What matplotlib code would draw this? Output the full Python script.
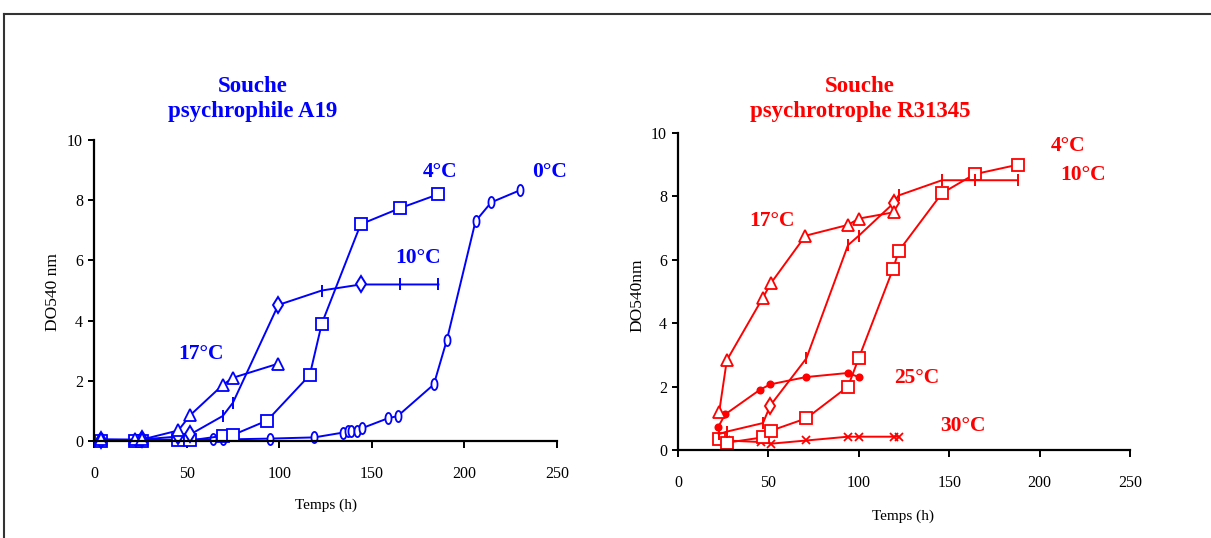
import numpy as np
import matplotlib
matplotlib.use("Agg")
import matplotlib.pyplot as plt
from matplotlib.lines import Line2D

plt.rcParams['font.family'] = ['Liberation Serif', 'DejaVu Serif']

# ---- souche psychrophile A19 (gauche) ----
x17L = [4, 22, 26, 45.5, 52, 69.5, 75, 99.5]
y17L = [0.05, 0.05, 0.05, 0.35, 0.86, 1.86, 2.1, 2.57]
x10L = [4, 22, 26, 45.5, 52, 69.5, 75, 99.5, 123, 144, 165, 186]
y10L = [0.03, 0.03, 0.05, 0.15, 0.22, 0.83, 1.27, 4.52, 5.0, 5.2, 5.2, 5.2]
diam10L = [0, 2, 3, 4, 7, 9]
tick10L = [1, 5, 6, 8, 10, 11]
x4L = [4, 22, 26, 45.5, 52, 69.5, 75, 93.5, 116.5, 123, 144, 165, 186]
y4L = [0.0, 0.0, 0.0, 0.02, 0.02, 0.17, 0.2, 0.68, 2.19, 3.9, 7.2, 7.73, 8.2]
x0L = [4, 22, 26, 45.5, 52, 64.5, 69.5, 95, 119, 134.5, 137, 139, 142, 144.5,
       158.5, 164, 183.5, 190.5, 206, 214.5, 230]
y0L = [0.05, 0.03, 0.03, 0.05, 0.05, 0.05, 0.05, 0.08, 0.12, 0.28, 0.33, 0.33,
       0.33, 0.42, 0.75, 0.83, 1.88, 3.35, 7.3, 7.93, 8.33]

# ---- souche psychrotrophe R31345 (droite) ----
x17R = [22.8, 27, 47, 51.5, 70.5, 94, 100, 119.5]
y17R = [1.21, 2.83, 4.81, 5.27, 6.76, 7.1, 7.3, 7.5]
x10R = [22.5, 27, 47, 51, 71, 94, 100, 119.5, 122, 146, 164, 188]
y10R = [0.5, 0.58, 0.85, 1.4, 2.89, 6.46, 6.76, 7.8, 8.03, 8.51, 8.51, 8.51]
diam10R = [3, 7]
tick10R = [0, 1, 2, 4, 5, 6, 8, 9, 10, 11]
x4R = [22.8, 27, 47, 51.5, 71, 94, 100, 119, 122, 146, 164, 188]
y4R = [0.34, 0.23, 0.4, 0.61, 1.0, 2.0, 2.9, 5.72, 6.27, 8.1, 8.7, 9.0]
x25R = [22.3, 26, 45.3, 51, 70.7, 94, 100]
y25R = [0.73, 1.12, 1.9, 2.07, 2.3, 2.43, 2.3]
x30R = [22.5, 26.5, 46, 51.5, 71, 94, 100, 119.5, 122]
y30R = [0.35, 0.3, 0.25, 0.2, 0.3, 0.42, 0.42, 0.42, 0.42]

xticks = [0, 50, 100, 150, 200, 250]
yticks = [0, 2, 4, 6, 8, 10]

BLUE = '#0000ff'
RED = '#ff0000'

# marqueur ellipse "0"
t = np.linspace(0, 2 * np.pi, 40)
ellipse = list(zip(0.55 * np.cos(t), np.sin(t)))

fig = plt.figure(figsize=(12.11, 5.38), dpi=100)
W, H = 1211, 538

axL = fig.add_axes([94 / W, 1 - 441 / H, 463 / W, 301 / H])
axR = fig.add_axes([678 / W, 1 - 450 / H, 452 / W, 317 / H])

lw = 1.4


def style(ax):
    ax.set_xlim(0, 250)
    ax.set_ylim(0, 10)
    ax.set_xticks(xticks)
    ax.set_yticks(yticks)
    for s in ['top', 'right']:
        ax.spines[s].set_visible(False)
    for s in ['left', 'bottom']:
        ax.spines[s].set_linewidth(1.6)
    ax.tick_params(axis='x', direction='out', length=5, width=1.4, pad=13, labelsize=11.5)
    ax.tick_params(axis='y', direction='out', length=4, width=1.4, pad=4, labelsize=11.5)
    ax.patch.set_alpha(0)


def curve(ax, x, y, c, marker=None, ms=7, mfc='white', mew=1.3):
    ax.plot(x, y, color=c, lw=lw, marker=marker, ms=ms, mfc=mfc, mec=c,
            mew=mew, clip_on=False)


def sub(ax, x, y, idx, c, marker, ms, mfc='white'):
    ax.plot([x[i] for i in idx], [y[i] for i in idx], ls='none', marker=marker,
            ms=ms, mfc=mfc, mec=c, mew=1.4, clip_on=False)


# gauche
curve(axL, x0L, y0L, BLUE, ellipse, ms=8)
curve(axL, x4L, y4L, BLUE, 's', ms=9)
curve(axL, x10L, y10L, BLUE)
sub(axL, x10L, y10L, diam10L, BLUE, 'd', 8)
sub(axL, x10L, y10L, tick10L, BLUE, '|', 9)
curve(axL, x17L, y17L, BLUE, '^', ms=8)

# droite
curve(axR, x30R, y30R, RED, 'x', ms=6)
curve(axR, x4R, y4R, RED, 's', ms=8)
curve(axR, x10R, y10R, RED)
sub(axR, x10R, y10R, diam10R, RED, 'd', 8)
sub(axR, x10R, y10R, tick10R, RED, '|', 9)
curve(axR, x25R, y25R, RED, 'o', ms=4.5, mfc=RED)
curve(axR, x17R, y17R, RED, '^', ms=8)

style(axL)
style(axR)

lab = dict(fontsize=15.5, fontweight='bold', ha='center', va='center')
axL.text(187, 8.94, '4°C', color=BLUE, **lab)
axL.text(246, 8.94, '0°C', color=BLUE, **lab)
axL.text(175, 6.08, '10°C', color=BLUE, **lab)
axL.text(58, 2.89, '17°C', color=BLUE, **lab)

axR.text(52, 7.21, '17°C', color=RED, **lab)
axR.text(216, 9.6, '4°C', color=RED, **lab)
axR.text(224, 8.69, '10°C', color=RED, **lab)
axR.text(132, 2.27, '25°C', color=RED, **lab)
axR.text(157.5, 0.76, '30°C', color=RED, **lab)

ttl = dict(fontsize=16.5, fontweight='bold', ha='center', va='center')
fig.text(253 / W, 1 - 86 / H, 'Souche', color=BLUE, **ttl)
fig.text(253 / W, 1 - 112 / H, 'psychrophile A19', color=BLUE, **ttl)
fig.text(860 / W, 1 - 86 / H, 'Souche', color=RED, **ttl)
fig.text(860 / W, 1 - 112 / H, 'psychrotrophe R31345', color=RED, **ttl)

fig.text(326 / W, 1 - 505 / H, 'Temps (h)', fontsize=11, ha='center', va='center')
fig.text(903 / W, 1 - 516 / H, 'Temps (h)', fontsize=11, ha='center', va='center')
fig.text(53 / W, 1 - 292 / H, 'DO540 nm', fontsize=12.5, rotation=90, ha='center', va='center')
fig.text(637 / W, 1 - 295 / H, 'DO540nm', fontsize=12.5, rotation=90, ha='center', va='center')

# cadre
fig.add_artist(Line2D([4 / W, 1], [1 - 14 / H, 1 - 14 / H], color='#333333', lw=1.5))
fig.add_artist(Line2D([4 / W, 4 / W], [0, 1 - 14 / H], color='#333333', lw=1.5))

fig.savefig('out.png', dpi=100)
